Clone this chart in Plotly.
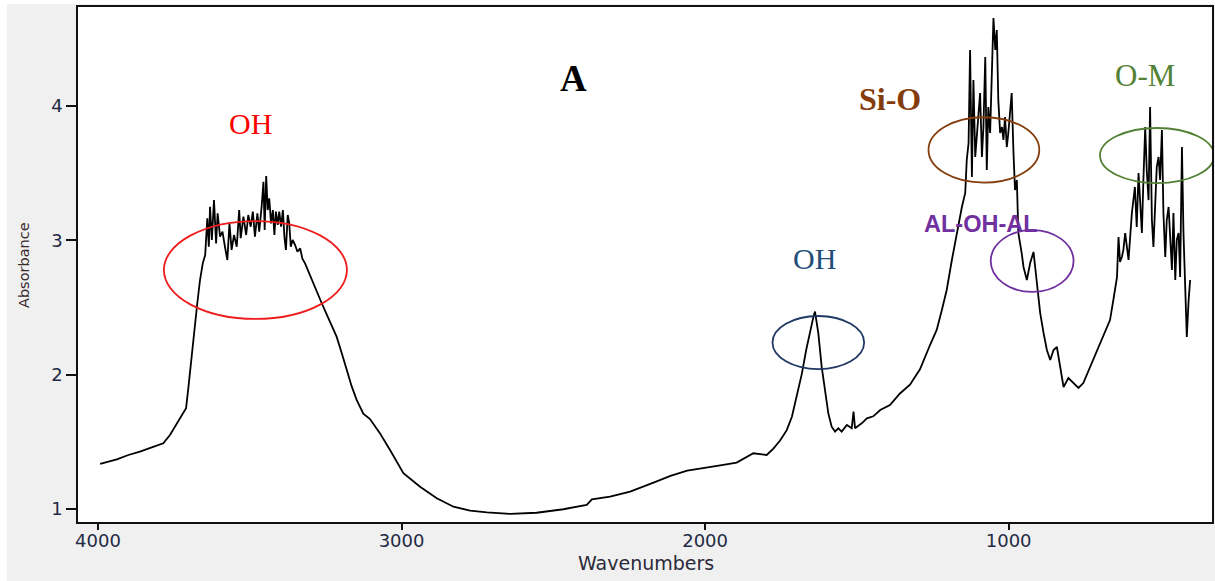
import plotly.graph_objects as go

# ---- data ----
wavenumber = [
    3993, 3938, 3900, 3862, 3823, 3785, 3763, 3741, 3724, 3710, 3702, 3691, 3680, 3673, 3664,
    3655, 3647, 3640, 3635, 3631, 3625, 3618, 3611, 3606, 3598, 3590, 3582, 3574, 3567, 3560,
    3552, 3543, 3535, 3530, 3521, 3512, 3505, 3497, 3490, 3483, 3475, 3469, 3461, 3455, 3451,
    3446, 3441, 3436, 3430, 3424, 3419, 3414, 3408, 3403, 3397, 3391, 3386, 3381, 3375, 3370,
    3365, 3359, 3351, 3343, 3334, 3327, 3318, 3307, 3296, 3279, 3263, 3246, 3230, 3214, 3197,
    3181, 3164, 3148, 3126, 3104, 3071, 3038, 2994, 2939, 2884, 2829, 2774, 2719, 2642, 2555,
    2467, 2390, 2373, 2313, 2247, 2170, 2114, 2059, 2005, 1950, 1896, 1841, 1797, 1775, 1753,
    1731, 1714, 1698, 1681, 1667, 1654, 1643, 1638, 1632, 1627, 1616, 1606, 1594, 1583, 1572,
    1561, 1550, 1533, 1517, 1511, 1506, 1484, 1467, 1446, 1423, 1391, 1358, 1325, 1292, 1259,
    1237, 1220, 1204, 1187, 1171, 1154, 1143, 1138, 1132, 1127, 1121, 1116, 1110, 1105, 1100,
    1094, 1088, 1083, 1077, 1072, 1067, 1061, 1055, 1050, 1044, 1039, 1034, 1028, 1022, 1017,
    1012, 1006, 1001, 990, 984, 979, 973, 968, 957, 951, 940, 929, 918, 913, 907,
    896, 885, 874, 863, 852, 841, 830, 819, 803, 787, 770, 754, 731, 709, 688,
    666, 655, 643, 638, 633, 627, 622, 616, 605, 594, 584, 578, 572, 567, 561,
    556, 550, 545, 539, 534, 528, 523, 517, 512, 506, 501, 495, 490, 484, 479,
    473, 468, 462, 457, 451, 446, 440, 435, 429, 424, 418, 413, 407, 402,
]
absorbance = [
    1.335, 1.370, 1.402, 1.427, 1.459, 1.489, 1.551, 1.638, 1.700, 1.750, 1.911, 2.159, 2.357, 2.532, 2.705,
    2.829, 2.891, 3.165, 2.953, 3.251, 3.003, 3.300, 2.978, 3.202, 3.028, 3.065, 2.953, 2.854, 3.127, 2.929,
    3.040, 2.953, 3.226, 3.016, 3.177, 3.040, 3.189, 3.102, 3.214, 3.028, 3.202, 3.065, 3.251, 3.437, 3.077,
    3.480, 3.226, 3.313, 3.127, 3.226, 3.040, 3.214, 3.115, 3.214, 3.102, 3.226, 3.028, 2.929, 3.189, 3.127,
    2.953, 3.003, 2.966, 2.916, 2.941, 2.866, 2.829, 2.767, 2.705, 2.618, 2.532, 2.445, 2.370, 2.283, 2.159,
    2.035, 1.911, 1.812, 1.710, 1.670, 1.563, 1.439, 1.266, 1.166, 1.080, 1.017, 0.987, 0.975, 0.963, 0.972,
    0.998, 1.030, 1.072, 1.092, 1.129, 1.196, 1.246, 1.286, 1.303, 1.325, 1.345, 1.415, 1.402, 1.450, 1.510,
    1.587, 1.687, 1.836, 2.010, 2.184, 2.333, 2.432, 2.470, 2.383, 2.309, 2.060, 1.886, 1.712, 1.613, 1.576,
    1.601, 1.576, 1.626, 1.601, 1.725, 1.601, 1.638, 1.675, 1.690, 1.737, 1.774, 1.860, 1.925, 2.040, 2.221,
    2.333, 2.482, 2.631, 2.854, 3.055, 3.249, 3.353, 3.599, 3.725, 4.418, 3.472, 4.194, 3.621, 3.800, 3.919,
    4.098, 3.621, 3.844, 4.366, 3.524, 3.993, 3.800, 4.291, 4.656, 4.418, 4.567, 4.045, 3.800, 3.844, 3.748,
    3.919, 3.695, 3.800, 4.098, 3.651, 3.375, 3.450, 3.055, 2.906, 2.802, 2.705, 2.832, 2.914, 2.802, 2.705,
    2.459, 2.311, 2.184, 2.109, 2.184, 2.206, 2.057, 1.908, 1.975, 1.938, 1.901, 1.938, 2.057, 2.184, 2.281,
    2.407, 2.556, 2.727, 3.025, 2.839, 2.876, 2.929, 3.055, 2.854, 3.204, 3.398, 3.100, 3.502, 3.300, 3.055,
    3.450, 3.844, 3.524, 3.300, 3.993, 3.152, 2.951, 3.300, 3.547, 3.621, 3.450, 3.822, 3.204, 2.876, 3.152,
    3.249, 3.055, 2.780, 3.204, 2.705, 3.003, 3.055, 2.727, 3.695, 3.055, 2.608, 2.281, 2.556, 2.705,
]

x_ticks = [4000, 3000, 2000, 1000]
y_ticks = [1, 2, 3, 4]

# band labels: text, wavenumber, absorbance, colour, font, size, bold
labels = [
    ("OH", 3499, 3.874, "#ff0000", "Liberation Serif", 30, False),
    ("A", 2432, 4.202, "#000000", "Liberation Serif", 37, True),
    ("Si-O", 1390, 4.053, "#843c0c", "Liberation Serif", 32, True),
    ("O-M", 550, 4.228, "#548235", "Liberation Serif", 31, False),
    ("AL-OH-AL", 1092, 3.122, "#7030a0", "Liberation Sans", 23.5, True),
    ("OH", 1638, 2.865, "#1f4e79", "Liberation Serif", 30, False),
]

# band ellipses: x0, x1 (wavenumber), y0, y1 (absorbance), colour
ellipses = [
    (3783, 3180, 2.415, 3.144, "#ee1c1c"),
    (1778, 1476, 2.042, 2.437, "#1f3864"),
    (1264, 899, 3.430, 3.917, "#843c0c"),
    (1059, 786, 2.616, 3.077, "#7030a0"),
    (699, 323, 3.427, 3.837, "#538135"),
]

fig = go.Figure()
fig.add_trace(go.Scatter(
    x=wavenumber, y=absorbance, mode="lines",
    line=dict(color="black", width=1.8), showlegend=False, hoverinfo="skip",
))

shapes = []
for x0, x1, y0, y1, c in ellipses:
    shapes.append(dict(type="circle", xref="x", yref="y", x0=x0, x1=x1, y0=y0, y1=y1,
                       line=dict(color=c, width=1.8), layer="above"))
# white strips at the image edge (left and top)
shapes.append(dict(type="rect", xref="paper", yref="paper", x0=-0.075, x1=-0.0627,
                   y0=-0.2, y1=1.1, fillcolor="white", line=dict(width=0)))
shapes.append(dict(type="rect", xref="paper", yref="paper", x0=-0.075, x1=1.01,
                   y0=1.0058, y1=1.1, fillcolor="white", line=dict(width=0)))

annotations = []
for text, xv, yv, c, fam, size, bold in labels:
    annotations.append(dict(
        x=xv, y=yv, xref="x", yref="y", text=text, showarrow=False,
        xanchor="center", yanchor="middle",
        font=dict(family=fam, size=size, color=c, weight="bold" if bold else "normal"),
    ))
annotations.append(dict(
    x=(645.5 - 78) / 1134, y=(522 - 563) / 515, xref="paper", yref="paper",
    text="Wavenumbers", showarrow=False, xanchor="center", yanchor="middle",
    font=dict(family="DejaVu Sans", size=19, color="#2a2a3a"),
))
annotations.append(dict(
    x=(24 - 78) / 1134, y=(522 - 265) / 515, xref="paper", yref="paper",
    text="Absorbance", showarrow=False, xanchor="center", yanchor="middle", textangle=-90,
    font=dict(family="DejaVu Sans", size=14.5, color="#3a2a2a"),
))

axis_common = dict(
    showline=True, mirror=True, linecolor="#111111", linewidth=1.5, automargin=False,
    showgrid=False, zeroline=False, ticks="outside", tickcolor="#111111", tickwidth=1.5,
    tickfont=dict(family="DejaVu Sans", size=18, color="#1f2a44"),
)

fig.update_layout(
    width=1215, height=581,
    margin=dict(l=78, r=3, t=7, b=59, autoexpand=False),
    paper_bgcolor="#f0f0f0", plot_bgcolor="white",
    xaxis=dict(range=[4066, 330], tickvals=x_ticks, ticktext=[str(t) for t in x_ticks],
               ticklen=6, ticklabelstandoff=-4, **axis_common),
    yaxis=dict(range=[0.903, 4.738], tickvals=y_ticks, ticktext=[str(t) for t in y_ticks],
               ticklen=10, **axis_common),
    shapes=shapes, annotations=annotations,
)

fig.write_html("out.html", config={"displayModeBar": False},
               post_script="document.body.style.margin='0';document.body.style.padding='0';")
